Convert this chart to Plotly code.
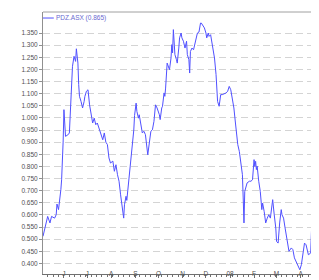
import plotly.graph_objects as go

series_name = "PDZ.ASX (0.865)"

dates = [
    "2007-05-05", "2007-05-11", "2007-05-14", "2007-05-16", "2007-05-20", "2007-05-22",
    "2007-05-23", "2007-05-25", "2007-05-28", "2007-05-29", "2007-05-31", "2007-06-01",
    "2007-06-03", "2007-06-06", "2007-06-08", "2007-06-10", "2007-06-12", "2007-06-14",
    "2007-06-16", "2007-06-17", "2007-06-19", "2007-06-20", "2007-06-21", "2007-06-23",
    "2007-06-25", "2007-06-27", "2007-06-28", "2007-06-30", "2007-07-02", "2007-07-04",
    "2007-07-06", "2007-07-08", "2007-07-10", "2007-07-12", "2007-07-14", "2007-07-17",
    "2007-07-19", "2007-07-21", "2007-07-23", "2007-07-25", "2007-07-27", "2007-07-29",
    "2007-07-31", "2007-08-03", "2007-08-05", "2007-08-07", "2007-08-09", "2007-08-11",
    "2007-08-13", "2007-08-16", "2007-08-17", "2007-08-18", "2007-08-20", "2007-08-21",
    "2007-08-23", "2007-08-24", "2007-08-26", "2007-08-28", "2007-08-30", "2007-08-31",
    "2007-09-02", "2007-09-03", "2007-09-05", "2007-09-06", "2007-09-08", "2007-09-10",
    "2007-09-12", "2007-09-14", "2007-09-17", "2007-09-19", "2007-09-21", "2007-09-23",
    "2007-09-25", "2007-09-27", "2007-09-29", "2007-10-02", "2007-10-03", "2007-10-05",
    "2007-10-06", "2007-10-08", "2007-10-09", "2007-10-10", "2007-10-12", "2007-10-15",
    "2007-10-17", "2007-10-18", "2007-10-19", "2007-10-20", "2007-10-21", "2007-10-22",
    "2007-10-24", "2007-10-25", "2007-10-27", "2007-10-28", "2007-10-30", "2007-10-31",
    "2007-11-02", "2007-11-04", "2007-11-06", "2007-11-07", "2007-11-09", "2007-11-10",
    "2007-11-11", "2007-11-13", "2007-11-15", "2007-11-17", "2007-11-18", "2007-11-20",
    "2007-11-22", "2007-11-24", "2007-11-25", "2007-11-27", "2007-11-29", "2007-12-01",
    "2007-12-02", "2007-12-04", "2007-12-05", "2007-12-07", "2007-12-09", "2007-12-12",
    "2007-12-14", "2007-12-15", "2007-12-16", "2007-12-18", "2007-12-20", "2007-12-22",
    "2007-12-27", "2007-12-29", "2007-12-31", "2008-01-02", "2008-01-04", "2008-01-06",
    "2008-01-08", "2008-01-11", "2008-01-13", "2008-01-15", "2008-01-17", "2008-01-18",
    "2008-01-19", "2008-01-20", "2008-01-22", "2008-01-23", "2008-01-26", "2008-01-28",
    "2008-01-30", "2008-02-01", "2008-02-02", "2008-02-03", "2008-02-04", "2008-02-05",
    "2008-02-07", "2008-02-09", "2008-02-11", "2008-02-12", "2008-02-14", "2008-02-16",
    "2008-02-18", "2008-02-20", "2008-02-22", "2008-02-24", "2008-02-25", "2008-02-27",
    "2008-02-29", "2008-03-01", "2008-03-03", "2008-03-05", "2008-03-07", "2008-03-08",
    "2008-03-10", "2008-03-12", "2008-03-14", "2008-03-16", "2008-03-17", "2008-03-20",
    "2008-03-22", "2008-03-24", "2008-03-26", "2008-03-28", "2008-03-31", "2008-04-02",
    "2008-04-04", "2008-04-06", "2008-04-08", "2008-04-09", "2008-04-11", "2008-04-14",
    "2008-04-15", "2008-04-17", "2008-04-18", "2008-04-20", "2008-04-22", "2008-04-24",
    "2008-04-27", "2008-04-28", "2008-04-30", "2008-05-02", "2008-05-03", "2008-05-04",
]

prices = [
    0.512, 0.594, 0.567, 0.594, 0.587, 0.601,
    0.645, 0.622, 0.704, 0.745, 0.905, 1.034,
    0.924, 0.930, 0.938, 1.089, 1.213, 1.254,
    1.233, 1.285, 1.226, 1.137, 1.089, 1.068,
    1.041, 1.068, 1.089, 1.110, 1.116, 1.054,
    1.013, 0.979, 0.999, 0.972, 0.979, 0.945,
    0.931, 0.910, 0.938, 0.900, 0.890, 0.835,
    0.814, 0.822, 0.780, 0.807, 0.766, 0.739,
    0.683, 0.601, 0.587, 0.642, 0.677, 0.660,
    0.725, 0.739, 0.810, 0.880, 0.950, 1.010,
    1.061, 1.027, 0.999, 1.013, 0.979, 0.938,
    0.945, 0.931, 0.848, 0.900, 0.945, 0.951,
    0.986, 1.054, 1.041, 1.013, 0.993, 1.041,
    1.048, 1.103, 1.089, 1.123, 1.226, 1.199,
    1.247, 1.302, 1.268, 1.364, 1.302, 1.261,
    1.240, 1.226, 1.288, 1.330, 1.350, 1.330,
    1.316, 1.288, 1.316, 1.261, 1.240, 1.185,
    1.274, 1.288, 1.281, 1.309, 1.322, 1.350,
    1.354, 1.391, 1.391, 1.378, 1.371, 1.350,
    1.330, 1.350, 1.336, 1.343, 1.302, 1.247,
    1.179, 1.096, 1.068, 1.048, 1.096, 1.096,
    1.103, 1.110, 1.130, 1.116, 1.082, 1.041,
    0.979, 0.890, 0.862, 0.814, 0.766, 0.670,
    0.567, 0.697, 0.718, 0.732, 0.739, 0.739,
    0.745, 0.828, 0.800, 0.821, 0.787, 0.801,
    0.739, 0.697, 0.622, 0.649, 0.615, 0.567,
    0.587, 0.601, 0.587, 0.656, 0.663, 0.601,
    0.546, 0.491, 0.484, 0.567, 0.622, 0.601,
    0.587, 0.546, 0.505, 0.464, 0.450, 0.464,
    0.457, 0.423, 0.409, 0.395, 0.374, 0.395,
    0.436, 0.484, 0.477, 0.457, 0.436, 0.443,
    0.533, 0.622, 0.587, 0.615, 0.663, 0.711,
    0.745, 0.773, 0.828, 0.876, 0.990, 0.960,
]

month_ticks = ["2007-06-01", "2007-07-01", "2007-08-01", "2007-09-01", "2007-10-01",
               "2007-11-01", "2007-12-01", "2008-01-01", "2008-02-01", "2008-03-01",
               "2008-04-01", "2008-05-01"]
month_labels = ["J", "J", "A", "S", "O", "N", "D", "08", "F", "M", "A", "M"]

y_ticks = [round(0.40 + 0.05 * i, 2) for i in range(20)]
y_labels = [f"{v:.3f}" for v in y_ticks]

x_range = ["2007-05-05", "2008-05-05"]
line_color = "#5050ff"
font = dict(family="Liberation Sans, Arial, sans-serif", size=6.5, color="#505050")

fig = go.Figure()
fig.add_trace(go.Scatter(x=dates, y=prices, mode="lines", name=series_name,
                         line=dict(color=line_color, width=1), showlegend=False))
# empty trace so the label axis is drawn
fig.add_trace(go.Scatter(x=[], y=[], xaxis="x2", showlegend=False, hoverinfo="skip"))

fig.update_layout(
    width=319, height=280,
    margin=dict(l=35, r=0, t=4, b=14),
    paper_bgcolor="white", plot_bgcolor="white",
    font=font,
    xaxis=dict(
        type="date", range=x_range,
        tickvals=month_ticks, showticklabels=False,
        showgrid=False, zeroline=False,
        showline=True, linecolor="#707070", linewidth=1,
        ticks="outside", ticklen=3, tickcolor="#707070",
        minor=dict(ticks="outside", ticklen=2, tickcolor="#707070",
                   dtick=7 * 86400000, tick0="2007-05-04", showgrid=False),
    ),
    xaxis2=dict(
        type="date", range=x_range, overlaying="x", anchor="free", position=0.02,
        side="bottom",
        tickvals=month_ticks, ticktext=month_labels,
        showgrid=False, zeroline=False, showline=False, ticks="",
        tickfont=font,
    ),
)
fig.update_yaxes(
    range=[0.3566, 1.4366],
    tickvals=y_ticks, ticktext=y_labels,
    showgrid=True, gridcolor="#d4d4d4", gridwidth=1, griddash="7px,4px",
    zeroline=False,
    showline=True, linecolor="#909090", linewidth=1,
    ticks="outside", ticklen=3, tickcolor="#909090",
    tickfont=font,
)
# top frame line
fig.add_shape(type="line", xref="paper", yref="paper", x0=0, x1=1, y0=1, y1=1,
              line=dict(color="#a0a0a0", width=1))
# legend sample
fig.add_shape(type="line", xref="paper", yref="paper", x0=0.0, x1=0.038, y0=0.977, y1=0.977,
              line=dict(color=line_color, width=1))
fig.add_annotation(text=series_name, xref="paper", yref="paper", x=0.04, y=0.977,
                   xanchor="left", yanchor="middle", showarrow=False,
                   font=dict(family="Liberation Sans, Arial, sans-serif", size=6.5, color="#6a6ad0"))

fig.write_html("out.html")
